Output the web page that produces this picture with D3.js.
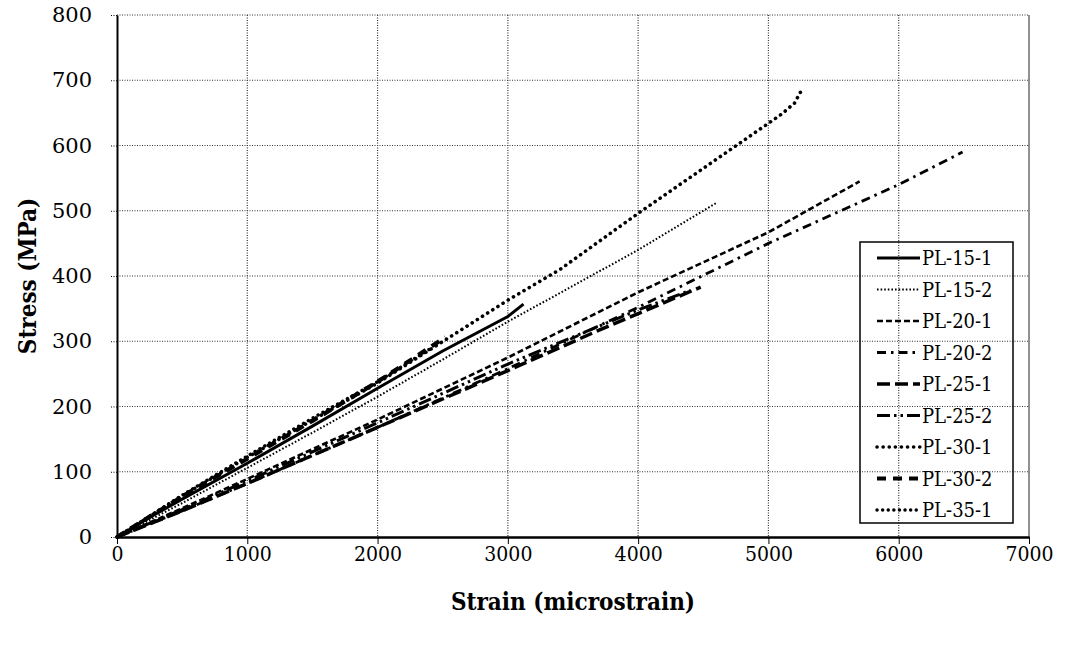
<!DOCTYPE html>
<html>
<head>
<meta charset="utf-8">
<script src="https://cdn.jsdelivr.net/npm/d3@7/dist/d3.min.js"></script>
<style>
body { margin: 0; background: #fff; }
</style>
</head>
<body>
<script>
var width = 1065, height = 647;
var serifFont = "'DejaVu Serif Condensed', 'DejaVu Serif'";

// data (strain in microstrain, stress in MPa)
var seriesNames = ["PL-15-1","PL-15-2","PL-20-1","PL-20-2","PL-25-1","PL-25-2","PL-30-1","PL-30-2","PL-35-1"];

var strain151 = [0, 250, 500, 1000, 1500, 2000, 2500, 3000, 3120];
var stress151 = [0, 30, 58, 113, 170, 228, 285, 338, 357];

var strain152 = [0, 500, 1000, 1500, 2000, 2500, 3000, 3500, 4000, 4600];
var stress152 = [0, 52, 106, 160, 215, 272, 330, 385, 440, 512];

var strain201 = [0, 500, 1000, 2000, 3000, 4000, 5000, 5700];
var stress201 = [0, 44, 89, 180, 275, 375, 467, 545];

var strain202 = [0, 500, 1000, 2000, 3000, 4000, 5000, 6000, 6490];
var stress202 = [0, 40, 82, 168, 258, 352, 450, 540, 590];

var strain251 = [0, 500, 1000, 2000, 3000, 3700, 4480];
var stress251 = [0, 40, 82, 168, 255, 317, 383];

var strain252 = [0, 500, 1000, 2000, 3000, 4000, 4400];
var stress252 = [0, 42, 86, 175, 265, 348, 378];

var strain301 = [0, 500, 1000, 2000, 3000, 3400, 4000, 4500, 5000, 5100, 5200, 5263];
var stress301 = [0, 63, 122, 236, 363, 410, 496, 565, 634, 648, 665, 688];

var strain302 = [0, 500, 1000, 1500, 2000, 2520];
var stress302 = [0, 62, 120, 178, 238, 306];

var strain351 = [0, 500, 1000, 1500, 2000, 2400];
var stress351 = [0, 64, 124, 182, 238, 288];

var strainList = [strain151, strain152, strain201, strain202, strain251, strain252, strain301, strain302, strain351];
var stressList = [stress151, stress152, stress201, stress202, stress251, stress252, stress301, stress302, stress351];

var xTicks = [0, 1000, 2000, 3000, 4000, 5000, 6000, 7000];
var yTicks = [0, 100, 200, 300, 400, 500, 600, 700, 800];

// line styles: [stroke-width, dasharray, linecap]
var styles = [
    [3, null, "butt"],
    [2, "1.6 2", "butt"],
    [2.6, "6 3", "butt"],
    [2.8, "9 5 2.5 5", "butt"],
    [3.5, "13 5", "butt"],
    [3, "13 4 2.5 4 2.5 4", "butt"],
    [3.6, "0.1 6", "round"],
    [4.2, "9 7", "butt"],
    [3.4, "0.1 5.5", "round"]
];

var x = d3.scaleLinear().domain([0, 7000]).range([117, 1029]);
var y = d3.scaleLinear().domain([0, 800]).range([537, 15]);

var svg = d3.select("body")
.append("svg")
.attr("width", width)
.attr("height", height);

// grid
svg.selectAll(".vgrid")
.data(xTicks.slice(1, -1)).enter().append("line")
.attr("class", "vgrid")
.attr("x1", d => x(d)).attr("x2", d => x(d))
.attr("y1", y(800)).attr("y2", y(0))
.attr("stroke", "#333").attr("stroke-width", 1.2)
.attr("stroke-dasharray", "1 1.5");

svg.selectAll(".hgrid")
.data(yTicks.slice(1)).enter().append("line")
.attr("class", "hgrid")
.attr("x1", x(0)).attr("x2", x(7000))
.attr("y1", d => y(d)).attr("y2", d => y(d))
.attr("stroke", "#333").attr("stroke-width", 1.2)
.attr("stroke-dasharray", "1 1.5");

// right frame edge
svg.append("line")
.attr("x1", x(7000)).attr("x2", x(7000))
.attr("y1", y(800)).attr("y2", y(0))
.attr("stroke", "#222").attr("stroke-width", 1);

// series
var line = d3.line()
.x(d => x(d[0]))
.y(d => y(d[1]));

seriesNames.forEach(function(name, i){
    var pts = strainList[i].map((s, j) => [s, stressList[i][j]]);
    var st = styles[i];
    svg.append("path")
    .datum(pts)
    .attr("d", line)
    .attr("fill", "none")
    .attr("stroke", "#000")
    .attr("stroke-width", st[0])
    .attr("stroke-dasharray", st[1])
    .attr("stroke-linecap", st[2]);
});

// axes
var xAxis = d3.axisBottom(x).tickValues(xTicks).tickFormat(d3.format("d")).tickSize(7).tickSizeOuter(0).tickPadding(2);
var gx = svg.append("g").attr("transform", "translate(0," + y(0) + ")").call(xAxis);
gx.attr("font-family", null).attr("font-size", null);
gx.select(".domain").attr("stroke-width", 2.5);
gx.selectAll("text")
.style("font-family", serifFont)
.style("font-stretch", "condensed")
.style("font-size", "21px")
.attr("dy", "0.72em");

var yAxis = d3.axisLeft(y).tickValues(yTicks).tickFormat(d3.format("d")).tickSize(7).tickSizeOuter(0).tickPadding(18);
var gy = svg.append("g").attr("transform", "translate(" + x(0) + ",0)").call(yAxis);
gy.attr("font-family", null).attr("font-size", null);
gy.select(".domain").attr("stroke-width", 2);
gy.selectAll(".tick line").attr("stroke-width", 1).attr("stroke-dasharray", "1 1.5");
gy.selectAll("text")
.style("font-family", "'DejaVu Serif'")
.style("font-size", "21px");

// axis titles
svg.append("text")
.attr("x", (x(0) + x(7000)) / 2)
.attr("y", 610)
.attr("text-anchor", "middle")
.style("font-family", serifFont)
.style("font-stretch", "condensed")
.style("font-size", "24px")
.style("font-weight", "bold")
.text("Strain (microstrain)");

svg.append("text")
.attr("transform", "translate(36," + y(400) + ") rotate(-90)")
.attr("text-anchor", "middle")
.style("font-family", serifFont)
.style("font-stretch", "condensed")
.style("font-size", "24px")
.style("font-weight", "bold")
.text("Stress (MPa)");

// legend
var legend = svg.append("g");
legend.append("rect")
.attr("x", 860).attr("y", 242)
.attr("width", 153).attr("height", 281)
.attr("fill", "none")
.attr("stroke", "#000").attr("stroke-width", 1.5);

seriesNames.forEach(function(name, i){
    var ly = 258 + i * 31.5;
    var st = styles[i];
    legend.append("line")
    .attr("x1", 877).attr("x2", 920)
    .attr("y1", ly).attr("y2", ly)
    .attr("stroke", "#000")
    .attr("stroke-width", st[0])
    .attr("stroke-dasharray", st[1])
    .attr("stroke-linecap", st[2]);
    legend.append("text")
    .attr("x", 922).attr("y", ly + 7)
    .style("font-family", serifFont)
    .style("font-stretch", "condensed")
    .style("font-size", "20px")
    .text(name);
});
</script>
</body>
</html>
